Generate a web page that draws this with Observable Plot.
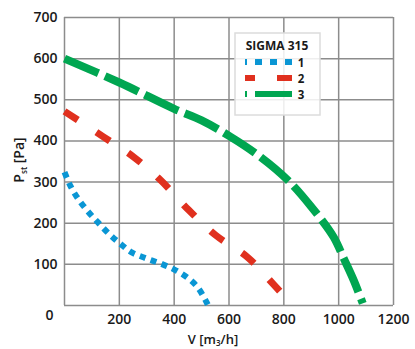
<!DOCTYPE html>
<html>
<head>
<meta charset="utf-8">
<script src="https://cdn.jsdelivr.net/npm/d3@7"></script>
<script src="https://cdn.jsdelivr.net/npm/@observablehq/plot@0.6"></script>
<style>
  html, body { margin: 0; padding: 0; background: #fff; }
  #chart svg { display: block; }
</style>
</head>
<body>
<div id="chart"></div>
<script>
// Data (V in m3/h, Pst in Pa)
const series1V = [0, 22, 50, 85, 122, 161, 202, 245, 296, 350, 399, 448, 486, 515, 524];
const series1P = [324, 290, 259, 229, 202, 175, 151, 129, 115, 102, 88, 68, 44, 12, 0];
const series2V = [0, 142, 252, 350, 453, 551, 668, 759, 785];
const series2P = [472, 410, 361, 305, 232, 171, 117, 54, 35];
const series3V = [0, 200, 400, 500, 606, 715, 814, 900, 982, 1018, 1055, 1088];
const series3P = [600, 542, 478, 450, 410, 361, 305, 240, 166, 115, 61, 5];
const seriesNames = ["1", "2", "3"];
const seriesColors = ["#0a96d4", "#e0301e", "#00a651"];
const xTicks = [200, 400, 600, 800, 1000, 1200];
const yTicks = [100, 200, 300, 400, 500, 600, 700];
const legendTitle = "SIGMA 315";

const styles = [
  {width: 6, dash: "6,5.5"},
  {width: 7, dash: "16,22"},
  {width: 8, dash: "37,7"}
];

const toRows = (vs, ps, s) => vs.map((v, i) => ({V: v, P: ps[i], s}));
const rows = [
  toRows(series1V, series1P, 0),
  toRows(series2V, series2P, 1),
  toRows(series3V, series3P, 2)
];

const gridColor = "#8c8c8c";
const font = "'Open Sans', sans-serif";
const textColor = "#1a1a1a";

const plot = Plot.plot({
  width: 415,
  height: 349,
  marginLeft: 64,
  marginRight: 22,
  marginTop: 17,
  marginBottom: 44,
  style: {fontFamily: font, fontSize: "14px", fontWeight: 600, color: textColor, background: "#fff"},
  x: {domain: [0, 1200], ticks: xTicks, tickFormat: d => String(d), tickSize: 0, tickPadding: 9, label: null},
  y: {domain: [0, 700], ticks: yTicks, tickFormat: d => String(d), tickSize: 0, tickPadding: 7, label: null},
  marks: [
    Plot.gridX([0, ...xTicks], {stroke: gridColor, strokeOpacity: 1, strokeWidth: 1.5}),
    Plot.gridY([0, ...yTicks], {stroke: gridColor, strokeOpacity: 1, strokeWidth: 1.5}),
    ...rows.map((r, i) => Plot.line(r, {
      x: "V", y: "P", stroke: seriesColors[i], strokeWidth: styles[i].width,
      strokeDasharray: styles[i].dash, strokeLinecap: "butt", curve: "catmull-rom"
    })),
    Plot.text([0], {x: 0, y: 0, text: d => String(d), dx: -15, dy: 10, fontSize: 14, fontWeight: 600, fill: textColor})
  ]
});

document.getElementById("chart").appendChild(plot);

const svg = d3.select(plot);

// Axis labels with subscripts
const yl = svg.append("text")
  .attr("transform", "translate(24,160) rotate(-90)")
  .attr("text-anchor", "middle")
  .attr("font-family", font).attr("font-size", 14).attr("font-weight", 600).attr("fill", textColor);
yl.append("tspan").text("P");
yl.append("tspan").attr("font-size", 8).attr("dy", 3).text("st");
yl.append("tspan").attr("dy", -3).text(" [Pa]");

const xl = svg.append("text")
  .attr("x", 213).attr("y", 344)
  .attr("font-family", font).attr("font-size", 13).attr("font-weight", 600).attr("fill", textColor);
xl.append("tspan").text("V [m");
xl.append("tspan").attr("font-size", 8).attr("dy", 2).text("3");
xl.append("tspan").attr("dy", -2).text("/h]");

// Legend
const lg = svg.append("g");
lg.append("rect").attr("x", 235).attr("y", 33).attr("width", 85).attr("height", 82)
  .attr("fill", "#fff").attr("fill-opacity", 0.85)
  .attr("stroke", "#dcdcdc").attr("stroke-width", 1.5);
lg.append("text").attr("x", 277).attr("y", 50).attr("text-anchor", "middle")
  .attr("font-family", font).attr("font-size", 12).attr("font-weight", 700)
  .attr("fill", textColor).text(legendTitle);
const legendDash = [
  {dash: "7,8", offset: 5, width: 6},
  {dash: "15,22", offset: 5, width: 6},
  {dash: "37,8", offset: 35, width: 6}
];
seriesNames.forEach((name, i) => {
  const y = 62 + i * 16;
  lg.append("line").attr("x1", 245).attr("x2", 292).attr("y1", y).attr("y2", y)
    .attr("stroke", seriesColors[i]).attr("stroke-width", legendDash[i].width)
    .attr("stroke-dasharray", legendDash[i].dash)
    .attr("stroke-dashoffset", legendDash[i].offset);
  lg.append("text").attr("x", 301).attr("y", y + 4.5)
    .attr("font-family", font).attr("font-size", 11.5).attr("font-weight", 700)
    .attr("fill", textColor).text(name);
});
</script>
</body>
</html>
